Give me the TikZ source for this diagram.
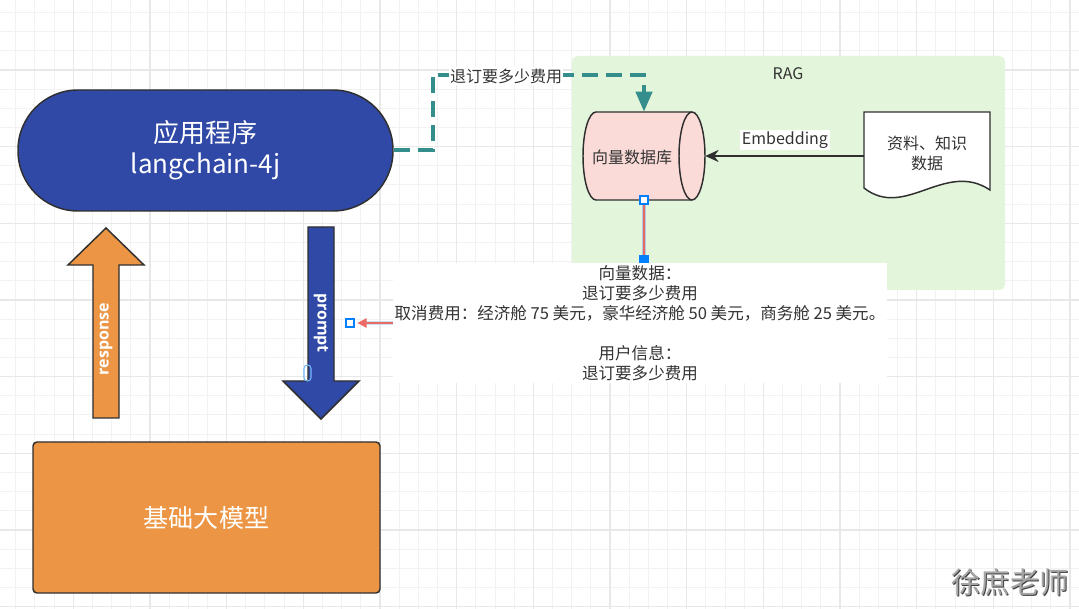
\documentclass[tikz,border=0pt]{standalone}
\usepackage{fontspec}
\setmainfont{Noto Sans CJK SC}
\newfontfamily\latb{Open Sans}
\usetikzlibrary{arrows.meta}
\definecolor{appblue}{HTML}{3049A6}
\definecolor{llmorange}{HTML}{EC9645}
\definecolor{raggreen}{HTML}{E3F5DA}
\definecolor{dbpink}{HTML}{FADBD8}
\definecolor{tealc}{HTML}{348F8C}
\definecolor{edgec}{HTML}{2F2F2F}
\definecolor{txt}{HTML}{333333}
\definecolor{redc}{HTML}{EA6B66}
\definecolor{selblue}{HTML}{007FFF}
\definecolor{haloc}{HTML}{A9CCE3}
\definecolor{gridminor}{HTML}{F2F2F2}
\definecolor{gridmajor}{HTML}{E8E8E8}
\tikzset{
  shapeline/.style={draw=edgec, line width=1.1pt},
  appbox/.style={shapeline, rectangle, fill=appblue, rounded corners=45pt,
    minimum width=281.25pt, minimum height=90.75pt, text=white, align=center,
    font=\fontsize{19.5pt}{23.5pt}\selectfont},
  llmbox/.style={shapeline, rectangle, fill=llmorange, rounded corners=3pt,
    minimum width=260.25pt, minimum height=113.25pt, text=white,
    font=\fontsize{18.8pt}{22pt}\selectfont},
  raggroup/.style={rectangle, fill=raggreen, rounded corners=4pt,
    minimum width=324.75pt, minimum height=175.5pt},
  plain/.style={text=txt, align=center, font=\fontsize{12pt}{15pt}\selectfont, inner sep=1pt},
  ghost/.style={rectangle, draw=none, inner sep=0pt},
  arrowtext/.style={text=white, font=\latb\bfseries\fontsize{12pt}{14pt}\selectfont, inner sep=0pt},
  dashlink/.style={draw=tealc, line width=3pt, dash pattern=on 12pt off 6pt,
    -{Triangle[length=15pt,width=12pt]}},
  emblink/.style={draw=edgec, line width=1.4pt, -{Stealth[length=10pt,width=9pt]}},
  redlink/.style={draw=redc, line width=1.3pt},
  halolink/.style={draw=haloc, line width=3.6pt},
  handle/.style={draw=selblue, fill=white, line width=0.8pt},
  handlefill/.style={draw=selblue, fill=selblue, line width=0.8pt},
}
\begin{document}
\begin{tikzpicture}[x=0.75pt,y=-0.75pt]
\useasboundingbox (0,0) rectangle (1079,609);
\fill[white] (0,0) rectangle (1079,609);
% grid
\foreach \i in {0,...,55} \draw[gridminor, line width=0.75pt] ({15.83+\i*19.1667},0) -- ++(0,609);
\foreach \j in {0,...,31} \draw[gridminor, line width=0.75pt] (0,{12.5+\j*19.1667}) -- ++(1079,0);
\foreach \i in {0,...,13} \draw[gridmajor, line width=1pt] ({73.33+\i*76.667},0) -- ++(0,609);
\foreach \j in {0,...,7} \draw[gridmajor, line width=1pt] (0,{70+\j*76.667}) -- ++(1079,0);

% RAG group
\node[raggroup] (rag) at (788.5,173) {};
\node[plain, font=\fontsize{12pt}{15pt}\selectfont] (raglabel) at (788,74) {RAG};

% app node
\node[appbox] (app) at (205.5,150.5) {应用程序\\langchain-4j};

% base model
\node[llmbox] (llm) at (206.5,517.5) {基础大模型};

% response arrow (up)
\filldraw[shapeline, fill=llmorange] (93,418) -- (93,265) -- (68,265) -- (106,228) -- (144,265) -- (119,265) -- (119,418) -- cycle;
\node[arrowtext, rotate=90] (resp) at (106,339) {response};

% prompt arrow (down)
\filldraw[shapeline, fill=appblue] (308,227) -- (334,227) -- (334,381) -- (359,381) -- (321,419) -- (283,381) -- (308,381) -- cycle;
\node[arrowtext, rotate=-90] (prm) at (321,323) {prompt};
\draw[selblue!55, line width=0.8pt, rounded corners=2.5pt] (304,365) rectangle (311,381);

% vector database cylinder
\filldraw[shapeline, fill=dbpink] (596,112) arc (270:90:13 and 44) -- (692,200) arc (90:-90:13 and 44) -- cycle;
\draw[shapeline] (692,112) arc (270:90:13 and 44);
\node[ghost, minimum width=91.5pt, minimum height=66pt] (db) at (644,156) {};
\node[plain] (dblabel) at (632,157) {向量数据库};

% document shape
\filldraw[shapeline, fill=white] (864,112) -- (990,112) -- (990,190)
  .. controls (945,160) and (905,220) .. (864,188) -- cycle;
\node[ghost, minimum width=94.5pt, minimum height=66pt] (doc) at (927,156) {};
\node[plain] (doclabel) at (927,153) {资料、知识\\数据};

% embedding connector
\draw[emblink] (doc.west) -- (db.east);
\node[plain, fill=white, inner sep=1.5pt] (emblabel) at (785,140) {Embedding};

% dashed query connector
\draw[dashlink] (app.east) -- ++(39,0) |- (644,75) -- (db.north);
\node[plain, fill=white, inner sep=1pt] (qlabel) at (506,76) {退订要多少费用};

% info block
\draw[halolink] (db.south) -- (644,262);
\draw[redlink] (db.south) -- (644,262);
\draw[handlefill] (640,256) rectangle (648,264);
\node[rectangle, fill=white, minimum width=370.5pt, minimum height=90pt, inner sep=0pt,
  text=txt, align=center, font=\fontsize{12.4pt}{15pt}\selectfont] (info) at (640,323)
  {向量数据：\\退订要多少费用\\取消费用：经济舱 75 美元，豪华经济舱 50 美元，商务舱 25 美元。\\[15pt]用户信息：\\退订要多少费用};
\coordinate (promptin) at (350,323);
\draw[halolink, draw=haloc!60, line width=2.5pt] (info.west) -- ([xshift=8pt]promptin);
\draw[redlink, -{Triangle[length=7pt,width=7pt]}, shorten >=5.5pt] (info.west) -- (promptin);
\draw[handle] (346,319) rectangle (354,327);
\draw[handle] (640,196) rectangle (648,204);

% watermark
\node[text=black!75, font=\fontsize{22pt}{26pt}\selectfont] (wmshadow) at (1011,583) {徐庶老师};
\node[text=black!35, font=\fontsize{22pt}{26pt}\selectfont] (wm) at (1010,582) {徐庶老师};
\end{tikzpicture}
\end{document}
